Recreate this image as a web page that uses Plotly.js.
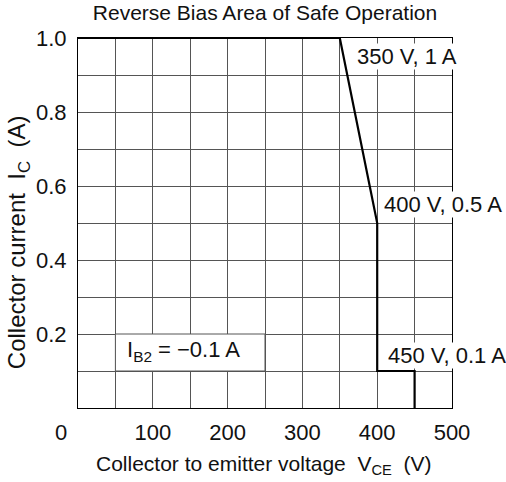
<!DOCTYPE html>
<html>
<head>
<meta charset="utf-8">
<script src="https://cdn.plot.ly/plotly-3.0.1.min.js"></script>
<style>html,body{margin:0;padding:0;background:#fff;}#chart{width:506px;height:482px;}</style>
</head>
<body>
<div id="chart"></div>
<script>
// Boundary of the reverse bias safe operating area
const vce = [0, 350, 400, 400, 450, 450];
const ic = [1.0, 1.0, 0.5, 0.1, 0.1, 0.0];

// Axis ticks
const xTickVals = [100, 200, 300, 400, 500];
const xTickText = ['100', '200', '300', '400', '500'];
const yTickVals = [0.2, 0.4, 0.6, 0.8, 1.0];
const yTickText = ['0.2', '0.4', '0.6', '0.8', '1.0'];

// Point labels
const labelText = ['350 V, 1 A', '400 V, 0.5 A', '450 V, 0.1 A'];
const labelX = [372, 408, 413];
const labelY = [0.95, 0.55, 0.143];

const FONT = 'Liberation Sans, Arial, Helvetica, sans-serif';
const GRID = '#555';
const FS = 22;

const annotations = labelText.map((t, i) => ({
  text: t, x: labelX[i], y: labelY[i], xref: 'x', yref: 'y',
  xanchor: 'left', yanchor: 'middle', showarrow: false,
  bgcolor: '#fff', borderpad: 0,
  font: {family: FONT, size: FS, color: '#111'}
}));

annotations.push({
  text: 'I<sub>B2</sub> = \u22120.1 A', x: 63, y: 0.155, xref: 'x', yref: 'y',
  xanchor: 'left', yanchor: 'middle', showarrow: false,
  font: {family: FONT, size: FS, color: '#111'}
});
annotations.push({
  text: '0', x: -0.045, y: -0.065, xref: 'paper', yref: 'paper',
  xanchor: 'center', yanchor: 'middle', showarrow: false,
  font: {family: FONT, size: FS, color: '#111'}
});
annotations.push({
  text: 'Collector to emitter voltage\u00a0\u00a0V<sub>CE</sub>\u00a0\u00a0(V)', x: 0.497, y: -0.155, xref: 'paper', yref: 'paper',
  xanchor: 'center', yanchor: 'middle', showarrow: false,
  font: {family: FONT, size: 21, color: '#111'}
});
annotations.push({
  text: 'Collector current\u00a0\u00a0I<sub>C</sub>\u00a0\u00a0(A)', x: -0.157, y: 0.449, xref: 'paper', yref: 'paper',
  xanchor: 'center', yanchor: 'middle', showarrow: false, textangle: -90,
  font: {family: FONT, size: 24, color: '#111'}
});

const layout = {
  width: 506, height: 482,
  margin: {l: 78, r: 54, t: 38, b: 74},
  paper_bgcolor: '#fff', plot_bgcolor: '#fff',
  showlegend: false,
  title: {
    text: 'Reverse Bias Area of Safe Operation',
    x: 0.5, xref: 'paper', xanchor: 'center',
    y: 1 - 13 / 482, yref: 'container', yanchor: 'middle',
    font: {family: FONT, size: 21, color: '#111'}
  },
  xaxis: {
    range: [0, 500], tickmode: 'array', tickvals: xTickVals, ticktext: xTickText,
    showgrid: true, gridcolor: GRID, gridwidth: 1,
    minor: {dtick: 50, tick0: 0, showgrid: true, gridcolor: GRID, gridwidth: 1, ticks: ''},
    showline: true, linecolor: '#000', linewidth: 1, mirror: true,
    ticks: '', zeroline: false, fixedrange: true,
    tickfont: {family: FONT, size: FS, color: '#111'},
    ticklabelstandoff: 5
  },
  yaxis: {
    range: [0, 1.0], tickmode: 'array', tickvals: yTickVals, ticktext: yTickText,
    showgrid: true, gridcolor: GRID, gridwidth: 1,
    minor: {dtick: 0.1, tick0: 0, showgrid: true, gridcolor: GRID, gridwidth: 1, ticks: ''},
    showline: true, linecolor: '#000', linewidth: 1, mirror: true,
    ticks: '', zeroline: false, fixedrange: true,
    tickfont: {family: FONT, size: FS, color: '#111'},
    ticklabelstandoff: 6
  },
  shapes: [{
    type: 'rect', xref: 'x', yref: 'y', x0: 50, x1: 250, y0: 0.1, y1: 0.2,
    fillcolor: '#fff', line: {color: GRID, width: 1}, layer: 'above'
  }],
  annotations: annotations
};

Plotly.newPlot('chart', [{
  x: vce, y: ic, type: 'scatter', mode: 'lines',
  line: {color: '#000', width: 2.2}, cliponaxis: false, hoverinfo: 'skip'
}], layout, {staticPlot: true, displayModeBar: false});
</script>
</body>
</html>
